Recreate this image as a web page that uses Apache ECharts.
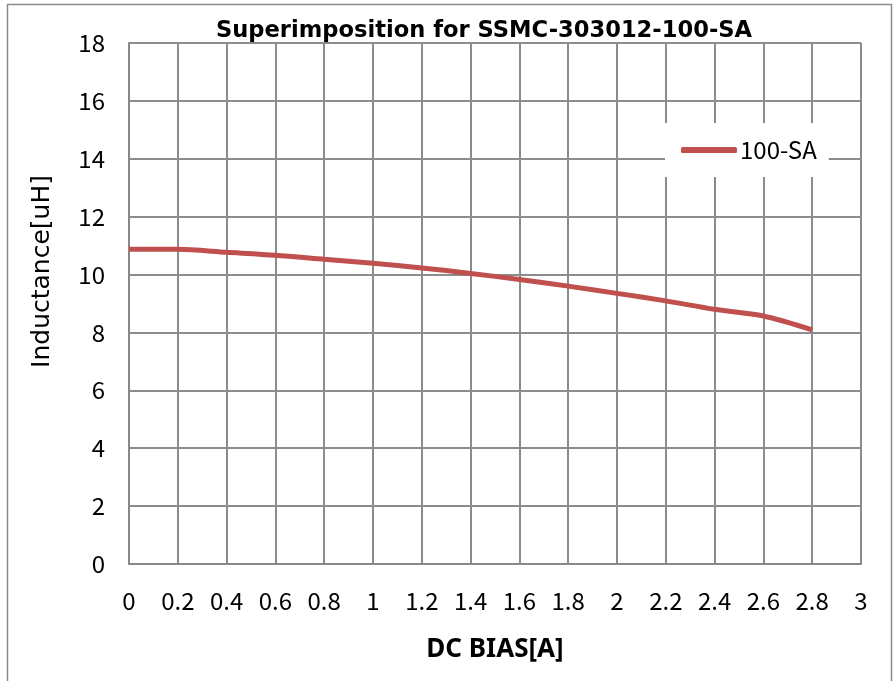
<!DOCTYPE html>
<html>
<head>
<meta charset="utf-8">
<script src="https://cdn.jsdelivr.net/npm/echarts@6/dist/echarts.min.js"></script>
<style>
  html, body { margin: 0; padding: 0; background: #fff; }
  #chart { width: 894px; height: 681px; }
</style>
</head>
<body>
<div id="chart"></div>
<script>
const biasCurrent = [0, 0.2, 0.4, 0.6, 0.8, 1.0, 1.2, 1.4, 1.6, 1.8, 2.0, 2.2, 2.4, 2.6, 2.8]
const inductance100SA = [10.87, 10.87, 10.77, 10.67, 10.53, 10.39, 10.23, 10.04, 9.83, 9.6, 9.35, 9.09, 8.8, 8.57, 8.09]
const seriesName = '100-SA'

const tickFont = '"Noto Sans CJK JP", "Noto Sans", sans-serif'

const chart = echarts.init(document.getElementById('chart'))

chart.setOption({
  backgroundColor: '#fff',
  animation: false,
  title: {
    text: 'Superimposition for SSMC-303012-100-SA',
    left: 479,
    top: 15,
    textAlign: 'center',
    textStyle: { fontFamily: '"DejaVu Sans", sans-serif', fontSize: 22.6, fontWeight: 'bold', color: '#000' },
  },
  legend: {
    data: [seriesName],
    left: 665,
    top: 123,
    padding: [15, 12, 15, 16],
    backgroundColor: '#fff',
    itemWidth: 56,
    itemHeight: 6,
    itemGap: 0,
    icon: 'roundRect',
    textStyle: { fontFamily: tickFont, fontSize: 24, color: '#000', padding: [0, 0, 0, -2] },
  },
  grid: { left: 129, right: 33, top: 43, bottom: 117 },
  xAxis: {
    type: 'value',
    min: 0,
    max: 3,
    interval: 0.2,
    name: 'DC BIAS[A]',
    nameLocation: 'middle',
    nameGap: 73,
    nameTextStyle: { fontFamily: '"Noto Sans", sans-serif', fontSize: 26, fontWeight: 'bold', color: '#000' },
    axisLine: { lineStyle: { color: '#888', width: 2 } },
    axisTick: { show: false },
    axisLabel: {
      margin: 25,
      fontFamily: tickFont,
      fontSize: 24,
      color: '#000',
      formatter: v => String(Math.round(v * 10) / 10),
    },
    splitLine: { lineStyle: { color: '#8c8c8c', width: 2 } },
  },
  yAxis: {
    type: 'value',
    min: 0,
    max: 18,
    interval: 2,
    name: 'Inductance[uH]',
    nameLocation: 'middle',
    nameGap: 74,
    nameTextStyle: { fontFamily: '"DejaVu Sans", sans-serif', fontSize: 25, color: '#000', padding: [0, 0, 0, 64] },
    axisLine: { show: true, lineStyle: { color: '#888', width: 2 } },
    axisTick: { show: false },
    axisLabel: { margin: 24, fontFamily: tickFont, fontSize: 24, color: '#000' },
    splitLine: { lineStyle: { color: '#8c8c8c', width: 2 } },
  },
  series: [
    {
      name: seriesName,
      type: 'line',
      smooth: 0.3,
      symbol: 'none',
      data: biasCurrent.map((x, i) => [x, inductance100SA[i]]),
      lineStyle: { color: '#c0504d', width: 5 },
      itemStyle: { color: '#c0504d' },
      z: 3,
    },
  ],
  graphic: [
    {
      type: 'rect',
      shape: { x: 7.5, y: 4.5, width: 884, height: 690 },
      style: { fill: 'none', stroke: '#8a8a8a', lineWidth: 1.5 },
      silent: true,
    },
  ],
})
</script>
</body>
</html>
